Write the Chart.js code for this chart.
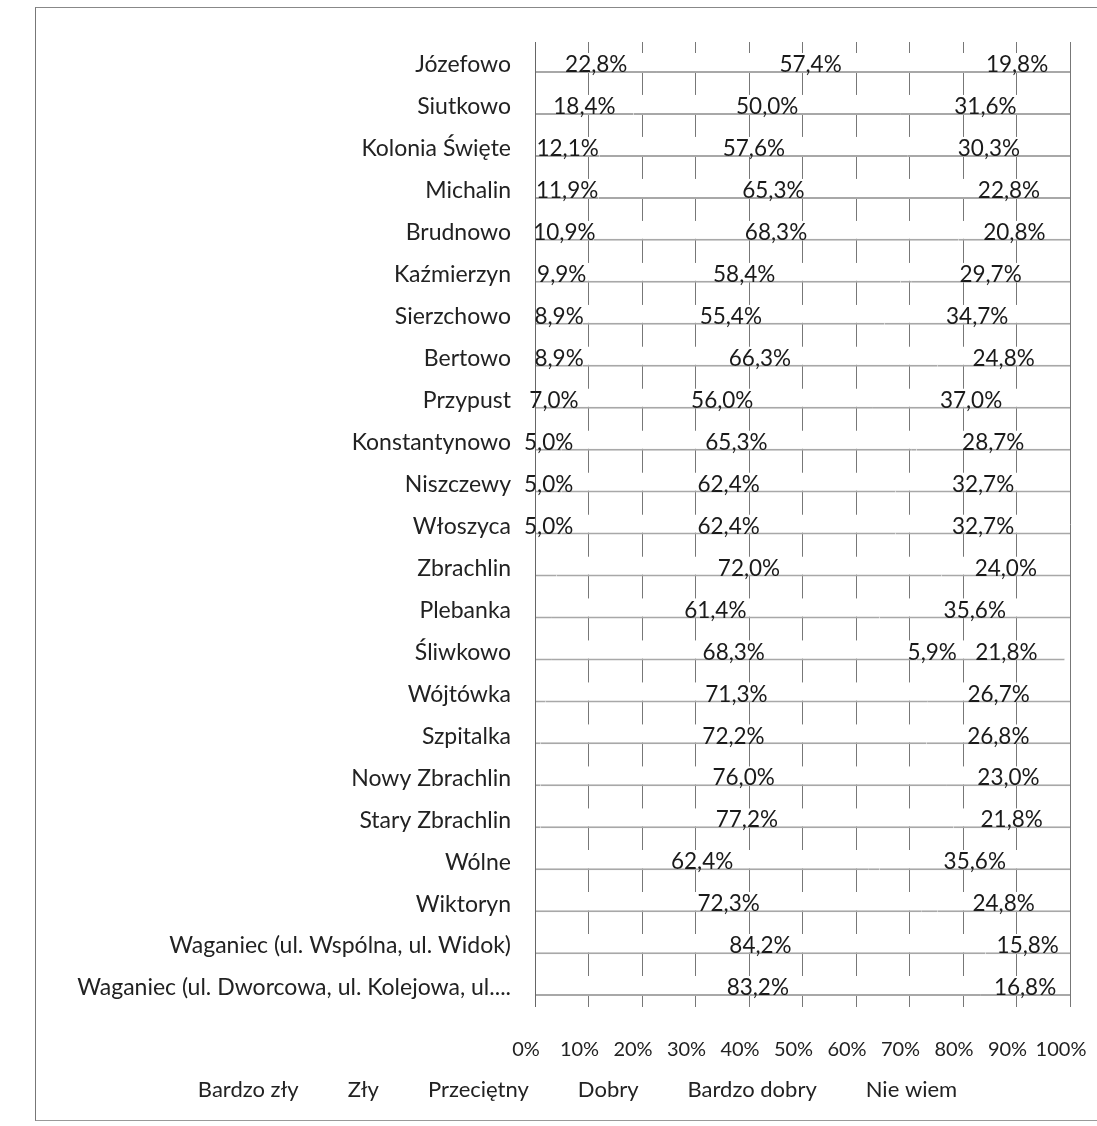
<!DOCTYPE html>
<html lang="pl">
<head>
<meta charset="utf-8">
<script src="https://cdn.jsdelivr.net/npm/chart.js@4.4.1/dist/chart.umd.min.js"></script>
<style>
  html, body { margin: 0; padding: 0; background: #fff; overflow: hidden; }
  #ramka {
    position: absolute; left: 35px; top: 7px; width: 1070px; height: 1112px;
    border-left: 1px solid #777; border-top: 1px solid #888; border-bottom: 1px solid #999;
  }
  #wykres { position: absolute; left: 36px; top: 8px; display: block; }
</style>
</head>
<body>
<div id="ramka"></div>
<canvas id="wykres" width="1061" height="1118"></canvas>
<script>
// sołectwa (od góry)
const kategorie = [
  'Józefowo', 'Siutkowo', 'Kolonia Święte', 'Michalin', 'Brudnowo', 'Kaźmierzyn',
  'Sierzchowo', 'Bertowo', 'Przypust', 'Konstantynowo', 'Niszczewy', 'Włoszyca',
  'Zbrachlin', 'Plebanka', 'Śliwkowo', 'Wójtówka', 'Szpitalka', 'Nowy Zbrachlin',
  'Stary Zbrachlin', 'Wólne', 'Wiktoryn', 'Waganiec (ul. Wspólna, ul. Widok)',
  'Waganiec (ul. Dworcowa, ul. Kolejowa, ul....'
];

// odpowiedzi w % (wartości < 5% nie mają etykiet na wykresie)
const bardzoZly   = [0, 0, 0, 0, 0, 0, 0, 0, 0, 0, 0, 0, 0, 0, 0, 0, 0, 0, 0, 0, 0, 0, 0];
const zly         = [0, 0, 0, 0, 0, 0, 0, 0, 0, 0, 0, 0, 0, 0, 0, 0, 0, 0, 0, 0, 0, 0, 0];
const przecietny  = [22.8, 18.4, 12.1, 11.9, 10.9, 9.9, 8.9, 8.9, 7.0, 5.0, 5.0, 5.0, 4.0, 3.0, 3.0, 2.0, 1.0, 1.0, 1.0, 0, 0, 0, 0];
const dobry       = [57.4, 50.0, 57.6, 65.3, 68.3, 58.4, 55.4, 66.3, 56.0, 65.3, 62.4, 62.4, 72.0, 61.4, 68.3, 71.3, 72.2, 76.0, 77.2, 62.4, 72.3, 84.2, 83.2];
const bardzoDobry = [0, 0, 0, 0, 0, 2.0, 1.0, 0, 0, 1.0, 0, 0, 0, 0, 5.9, 0, 0, 0, 0, 2.0, 2.9, 0, 0];
const nieWiem     = [19.8, 31.6, 30.3, 22.8, 20.8, 29.7, 34.7, 24.8, 37.0, 28.7, 32.7, 32.7, 24.0, 35.6, 21.8, 26.7, 26.8, 23.0, 21.8, 35.6, 24.8, 15.8, 16.8];

const etykietyOsi = ['0%', '10%', '20%', '30%', '40%', '50%', '60%', '70%', '80%', '90%', '100%'];

const FONT = 'Lato, "Noto Sans", sans-serif';

// etykiety wartości + lewa oś na wierzchu
const etykietyDanych = {
  id: 'etykietyDanych',
  afterDatasetsDraw(chart) {
    const ctx = chart.ctx;
    const a = chart.chartArea;
    ctx.save();
    ctx.strokeStyle = '#666';
    ctx.lineWidth = 1;
    ctx.beginPath();
    ctx.moveTo(a.left + 0.5, a.top);
    ctx.lineTo(a.left + 0.5, a.bottom);
    ctx.stroke();

    ctx.font = '22.5px ' + FONT;
    ctx.fillStyle = '#1a1a1a';
    ctx.textAlign = 'center';
    ctx.textBaseline = 'middle';
    chart.data.datasets.forEach((ds, i) => {
      chart.getDatasetMeta(i).data.forEach((bar, j) => {
        const v = ds.data[j];
        if (v < 5) return;
        const txt = v.toFixed(1).replace('.', ',') + '%';
        ctx.fillText(txt, (bar.x + bar.base) / 2, bar.y + 2);
      });
    });
    ctx.restore();
  }
};

function seria(nazwa, dane) {
  return {
    label: nazwa,
    data: dane,
    backgroundColor: '#ffffff',
    borderColor: '#a8a8a8',
    borderWidth: { top: 0, right: 0, bottom: 2, left: 0 },
    borderSkipped: false,
    categoryPercentage: 1,
    barPercentage: 0.48
  };
}

new Chart(document.getElementById('wykres'), {
  type: 'bar',
  data: {
    labels: kategorie,
    datasets: [
      seria('Bardzo zły', bardzoZly),
      seria('Zły', zly),
      seria('Przeciętny', przecietny),
      seria('Dobry', dobry),
      seria('Bardzo dobry', bardzoDobry),
      seria('Nie wiem', nieWiem)
    ]
  },
  options: {
    indexAxis: 'y',
    responsive: false,
    animation: false,
    layout: { padding: { left: 10, right: 27, top: 34, bottom: 15 } },
    scales: {
      x: {
        stacked: true,
        min: 0,
        max: 100,
        grid: { color: '#777', lineWidth: 1, drawTicks: false },
        border: { display: false },
        ticks: {
          stepSize: 10,
          padding: 31,
          labelOffset: -9,
          maxRotation: 0,
          autoSkip: false,
          color: '#222',
          font: { family: FONT, size: 20 },
          callback: (v, i) => etykietyOsi[i]
        },
        afterFit: s => { s.height = 62; s.paddingLeft = 0; s.paddingRight = 0; }
      },
      y: {
        stacked: true,
        grid: { display: false },
        border: { display: false },
        ticks: {
          padding: 16,
          labelOffset: 2,
          autoSkip: false,
          color: '#222',
          font: { family: FONT, size: 23 }
        },
        afterFit: s => { s.width = 489; }
      }
    },
    plugins: {
      legend: {
        position: 'bottom',
        labels: {
          color: '#222',
          font: { family: FONT, size: 22 },
          boxWidth: 28,
          padding: 10,
          generateLabels: chart => Chart.defaults.plugins.legend.labels.generateLabels(chart).map(l => {
            l.fillStyle = 'rgba(0,0,0,0)';
            l.strokeStyle = 'rgba(0,0,0,0)';
            l.lineWidth = 0;
            return l;
          })
        }
      },
      tooltip: { enabled: false }
    }
  },
  plugins: [etykietyDanych]
});
</script>
</body>
</html>
